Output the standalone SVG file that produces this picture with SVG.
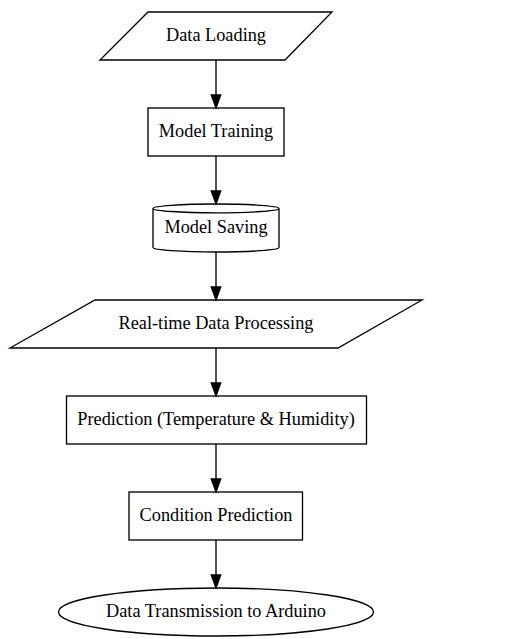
<svg xmlns="http://www.w3.org/2000/svg" width="510" height="639" viewBox="0 0 510 639">
<style>
.n{fill:none;stroke:#000;stroke-width:1.33}
.t{font-family:"Liberation Serif","Times New Roman",Times,serif;font-size:18.3px;fill:#000;text-anchor:middle}
.e{fill:none;stroke:#000;stroke-width:1.33}
.h{fill:#000;stroke:#000;stroke-width:1.33}
</style>
<rect width="510" height="639" fill="#fff"/>
<g id="connectors">
<path class="e" d="M216,60 V95"/><polygon class="h" points="211.3,95 216,108 220.7,95"/>
<path class="e" d="M216,156 V191"/><polygon class="h" points="211.3,191 216,204 220.7,191"/>
<path class="e" d="M216,252 V287"/><polygon class="h" points="211.3,287 216,300 220.7,287"/>
<path class="e" d="M216,348 V383"/><polygon class="h" points="211.3,383 216,396 220.7,383"/>
<path class="e" d="M216,444 V479"/><polygon class="h" points="211.3,479 216,492 220.7,479"/>
<path class="e" d="M216,540 V575"/><polygon class="h" points="211.3,575 216,588 220.7,575"/>
</g>
<g id="data_loading">
<polygon class="n" points="148,12 332,12 285,60 100,60"/>
<text class="t" x="216" y="40.6">Data Loading</text>
</g>
<g id="model_training">
<rect class="n" x="148" y="108" width="136" height="48"/>
<text class="t" x="216" y="136.6">Model Training</text>
</g>
<g id="model_saving">
<path class="n" d="M279,208.4 C279,206 250.8,204 216,204 C181.2,204 153,206 153,208.4 V247.6 C153,250 181.2,252 216,252 C250.8,252 279,250 279,247.6 V208.4 M279,208.4 C279,210.8 250.8,212.8 216,212.8 C181.2,212.8 153,210.8 153,208.4"/>
<text class="t" x="216" y="232.6">Model Saving</text>
</g>
<g id="realtime_processing">
<polygon class="n" points="95,300 422,300 338,348 10,348"/>
<text class="t" x="216" y="328.6">Real-time Data Processing</text>
</g>
<g id="prediction">
<rect class="n" x="66.5" y="396" width="300" height="48"/>
<text class="t" x="216" y="424.6">Prediction (Temperature &amp; Humidity)</text>
</g>
<g id="condition_prediction">
<rect class="n" x="129" y="492" width="173.5" height="48"/>
<text class="t" x="216" y="520.6">Condition Prediction</text>
</g>
<g id="data_transmission">
<ellipse class="n" cx="216" cy="612" rx="157.5" ry="24"/>
<text class="t" x="216" y="616.6">Data Transmission to Arduino</text>
</g>
</svg>
